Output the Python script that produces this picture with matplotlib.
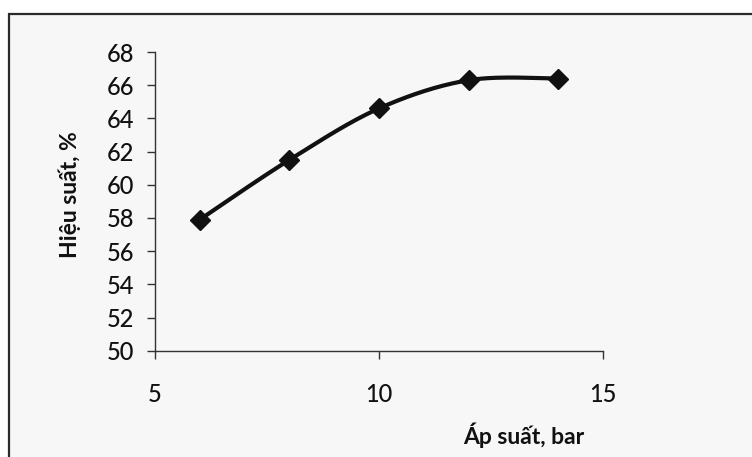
import numpy as np
import matplotlib.pyplot as plt
from matplotlib.patches import Rectangle

plt.rcParams['font.family'] = ['Lato', 'Open Sans', 'DejaVu Sans']

pressure = [6, 8, 10, 12, 14]
efficiency = [57.9, 61.5, 64.6, 66.3, 66.4]
xticks = [5, 10, 15]
yticks = list(range(50, 69, 2))


def smooth_curve(xs, ys, n=40):
    # Bezier smoothing through the points (control points at 1/6 of neighbour chord)
    p = np.column_stack([xs, ys]).astype(float)
    ext = np.vstack([p[0], p, p[-1]])
    out = []
    t = np.linspace(0, 1, n)[:, None]
    for i in range(len(p) - 1):
        p0, p3 = ext[i + 1], ext[i + 2]
        p1 = p0 + (ext[i + 2] - ext[i]) / 6
        p2 = p3 - (ext[i + 3] - ext[i + 1]) / 6
        seg = ((1 - t) ** 3) * p0 + 3 * ((1 - t) ** 2) * t * p1 \
            + 3 * (1 - t) * t ** 2 * p2 + t ** 3 * p3
        out.append(seg)
    out = np.vstack(out)
    return out[:, 0], out[:, 1]


fig = plt.figure(figsize=(7.52, 4.57), dpi=100, facecolor='white')

# chart area frame, runs off the right and bottom edges
fig.patches.append(Rectangle((9 / 752, -0.1), 1.2, 1.1 - 14 / 457,
                             transform=fig.transFigure, facecolor='#f7f7f7',
                             edgecolor='#2b2b2b', lw=1.6, zorder=-1))

ax = fig.add_axes([155 / 752, 1 - 350.7 / 457, 448 / 752, 298.7 / 457])
ax.set_facecolor('none')
ax.set_zorder(2)

sx, sy = smooth_curve(pressure, efficiency)
ax.plot(sx, sy, color='#111111', lw=3.0, solid_capstyle='round', zorder=3)
ax.plot(pressure, efficiency, linestyle='none', marker='D', markersize=10.5,
        color='#111111', zorder=4)

ax.set_xlim(5, 15)
ax.set_ylim(50, 68)
ax.set_xticks(xticks)
ax.set_yticks(yticks)
for s in ['top', 'right']:
    ax.spines[s].set_visible(False)
for s in ['left', 'bottom']:
    ax.spines[s].set_color('#333333')
    ax.spines[s].set_linewidth(1.0)
ax.tick_params(direction='out', length=6, width=1.0, color='#333333',
               labelsize=17, labelcolor='#111111', pad=9)
ax.tick_params(axis='x', pad=17)
for lbl in ax.get_xticklabels() + ax.get_yticklabels():
    lbl.set_fontweight('medium')

fig.text(70 / 752, 1 - 195 / 457, 'Hiệu suất, %', rotation=90, ha='center',
         va='center', fontsize=16.5, fontweight='bold', color='#111111')
fig.text(524 / 752, 1 - 435 / 457, 'Áp suất, bar', ha='center', va='center',
         fontsize=16.5, fontweight='bold', color='#111111')

fig.savefig('out.png', dpi=100, facecolor='white')
